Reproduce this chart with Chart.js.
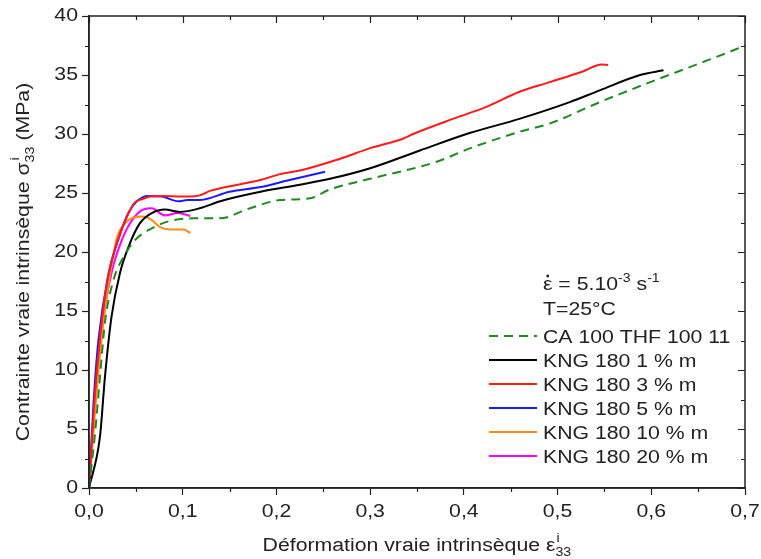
<!DOCTYPE html>
<html>
<head>
<meta charset="utf-8">
<script src="https://cdn.jsdelivr.net/npm/chart.js@4/dist/chart.umd.min.js"></script>
<style>
  body { margin: 0; background: #fff; }
  #wrap { width: 761px; height: 559px; }
</style>
</head>
<body>
<div id="wrap"><canvas id="chart"></canvas></div>
<script>
// strain (x) / stress in MPa (y)
const caX = [0, 0.0064, 0.0117, 0.017, 0.026, 0.037, 0.049, 0.067, 0.085, 0.113, 0.14, 0.168, 0.204, 0.236, 0.257, 0.30, 0.371, 0.407, 0.46, 0.492, 0.545, 0.599, 0.652, 0.691, 0.7];
const caY = [0, 4.6, 9.4, 14.0, 17.6, 19.6, 21.0, 22.0, 22.6, 22.85, 22.85, 23.6, 24.4, 24.55, 25.3, 26.2, 27.65, 28.8, 30.2, 30.9, 32.7, 34.4, 36.0, 37.2, 37.5];

const kng1X = [0, 0.0117, 0.017, 0.024, 0.033, 0.042, 0.054, 0.067, 0.081, 0.097, 0.118, 0.14, 0.183, 0.225, 0.257, 0.30, 0.353, 0.407, 0.46, 0.513, 0.545, 0.588, 0.613];
const kng1Y = [0, 4.35, 9.4, 14.5, 18.2, 20.4, 22.4, 23.3, 23.6, 23.4, 23.7, 24.3, 25.1, 25.7, 26.2, 27.1, 28.6, 30.1, 31.3, 32.7, 33.7, 35.0, 35.4];

const kng3X = [0, 0.005, 0.011, 0.02, 0.03, 0.04, 0.049, 0.058, 0.065, 0.08, 0.097, 0.108, 0.118, 0.13, 0.14, 0.183, 0.204, 0.225, 0.268, 0.30, 0.335, 0.346, 0.389, 0.424, 0.46, 0.492, 0.527, 0.547, 0.554];
const kng3Y = [0, 6.5, 12.2, 17.8, 20.8, 22.9, 24.2, 24.5, 24.7, 24.75, 24.7, 24.7, 24.8, 25.2, 25.4, 26.1, 26.6, 26.9, 27.9, 28.8, 29.6, 30.0, 31.3, 32.3, 33.6, 34.4, 35.3, 35.9, 35.85];

const kng5X = [0, 0.0046, 0.01, 0.021, 0.031, 0.042, 0.051, 0.063, 0.078, 0.095, 0.105, 0.117, 0.15, 0.183, 0.214, 0.252];
const kng5Y = [0, 6.9, 12.5, 18.2, 21.0, 23.3, 24.3, 24.75, 24.7, 24.3, 24.4, 24.4, 25.1, 25.5, 26.1, 26.8];

const kng10X = [0, 0.007, 0.014, 0.022, 0.03, 0.037, 0.047, 0.058, 0.067, 0.076, 0.086, 0.101, 0.108];
const kng10Y = [0, 7.0, 13.0, 17.8, 21.3, 22.3, 22.9, 23.0, 22.7, 22.1, 21.9, 21.9, 21.6];

const kng20X = [0, 0.0064, 0.0135, 0.024, 0.035, 0.046, 0.058, 0.067, 0.081, 0.095, 0.108];
const kng20Y = [0, 7.2, 13.4, 18.2, 21.0, 22.7, 23.6, 23.7, 23.1, 23.3, 23.05];

const labels = ["CA 100 THF 100 11", "KNG 180 1 % m", "KNG 180 3 % m", "KNG 180 5 % m", "KNG 180 10 % m", "KNG 180 20 % m"];
const xTicks = [0, 0.1, 0.2, 0.3, 0.4, 0.5, 0.6, 0.7];
const yTicks = [0, 5, 10, 15, 20, 25, 30, 35, 40];

const FONT = "Liberation Sans, Arial, sans-serif";
const INK = "#222";
const SX = 1.18; // the original text is a bit wider than Arial
const BIG = 18, SMALL = 12;

function pts(xs, ys) {
    return xs.map((x, i) => ({x: x, y: ys[i]}));
}

function series(label, xs, ys, color, dash) {
    return {
        label: label,
        data: pts(xs, ys),
        borderColor: color,
        borderWidth: 2,
        borderDash: dash || [],
        pointRadius: 0,
        showLine: true,
        fill: false,
        cubicInterpolationMode: "monotone"
    };
}

// draw stretched text, returns its width
function txt(ctx, s, x, y, size, align) {
    ctx.font = size + "px " + FONT;
    let w = ctx.measureText(s).width * SX;
    let x0 = x;
    if (align === "center") x0 = x - w / 2;
    if (align === "right") x0 = x - w;
    ctx.save();
    ctx.translate(x0, y);
    ctx.scale(SX, 1);
    ctx.textAlign = "left";
    ctx.fillText(s, 0, 0);
    ctx.restore();
    return w;
}

function tw(ctx, s, size) {
    ctx.font = size + "px " + FONT;
    return ctx.measureText(s).width * SX;
}

// frame, minor ticks, mirrored ticks, tick labels, titles, note and legend
let decor = {
    id: "decor",
    afterDraw: (chart) => {
        let ctx = chart.ctx;
        let a = chart.chartArea;
        let xs = chart.scales.x, ys = chart.scales.y;
        ctx.save();
        ctx.strokeStyle = INK;
        ctx.lineWidth = 1.5;
        ctx.strokeRect(a.left, a.top, a.right - a.left, a.bottom - a.top);

        ctx.lineWidth = 1.2;
        ctx.beginPath();
        for (let v = 0; v <= 0.7001; v += 0.05) {
            let major = Math.abs(v * 10 - Math.round(v * 10)) < 1e-6;
            let px = Math.round(xs.getPixelForValue(v)) + 0.5;
            let len = major ? 7 : 4;
            if (!major) {
                ctx.moveTo(px, a.bottom);
                ctx.lineTo(px, a.bottom + len);
            }
            ctx.moveTo(px, a.top);
            ctx.lineTo(px, a.top + len);
        }
        for (let v = 0; v <= 40; v += 2.5) {
            let major = v % 5 === 0;
            let py = Math.round(ys.getPixelForValue(v)) + 0.5;
            let len = major ? 7 : 4;
            if (!major) {
                ctx.moveTo(a.left, py);
                ctx.lineTo(a.left - len, py);
            }
            ctx.moveTo(a.right, py);
            ctx.lineTo(a.right - len, py);
        }
        ctx.stroke();

        ctx.fillStyle = INK;
        ctx.textBaseline = "middle";
        xTicks.forEach(v => {
            txt(ctx, v.toFixed(1).replace(".", ","), xs.getPixelForValue(v), 512, BIG, "center");
        });
        yTicks.forEach(v => {
            txt(ctx, String(v), 78, ys.getPixelForValue(v), BIG, "right");
        });

        ctx.textBaseline = "alphabetic";

        // x title
        let xt = "Déformation vraie intrinsèque ε";
        let xw = tw(ctx, xt, BIG);
        let x0 = (a.left + a.right) / 2 - xw / 2 - 8;
        let by = 551;
        txt(ctx, xt, x0, by, BIG);
        txt(ctx, "i", x0 + xw + 1, by - 9, SMALL);
        txt(ctx, "33", x0 + xw, by + 5, SMALL);

        // y title, rotated
        ctx.save();
        ctx.translate(29, 262);
        ctx.rotate(-Math.PI / 2);
        let p1 = "Contrainte vraie intrinsèque σ";
        let p2 = " (MPa)";
        let w1 = tw(ctx, p1, BIG);
        let w2 = tw(ctx, p2, BIG);
        let gap = 16;
        let sx = -(w1 + gap + w2) / 2;
        txt(ctx, p1, sx, 0, BIG);
        txt(ctx, p2, sx + w1 + gap, 0, BIG);
        txt(ctx, "i", sx + w1 + 2, -10, SMALL);
        txt(ctx, "33", sx + w1, 5, SMALL);
        ctx.restore();

        // note
        let lx = 543;
        let epsW = txt(ctx, "ε", lx, 290, BIG);
        ctx.beginPath();
        ctx.arc(lx + epsW / 2, 276, 1.4, 0, Math.PI * 2);
        ctx.fill();
        let cx = lx + epsW;
        cx += txt(ctx, " = 5.10", cx, 290, BIG);
        cx += txt(ctx, "-3", cx, 282, SMALL);
        cx += tw(ctx, " ", BIG);
        cx += txt(ctx, "s", cx, 290, BIG);
        txt(ctx, "-1", cx, 282, SMALL);
        txt(ctx, "T=25°C", lx, 315, BIG);

        // legend
        chart.data.datasets.forEach((ds, i) => {
            let y = 336 + i * 24;
            ctx.strokeStyle = ds.borderColor;
            ctx.lineWidth = 2;
            ctx.setLineDash(ds.borderDash);
            ctx.beginPath();
            ctx.moveTo(489, y);
            ctx.lineTo(537, y);
            ctx.stroke();
            ctx.setLineDash([]);
            ctx.fillStyle = INK;
            txt(ctx, ds.label, lx, y + 6.5, BIG);
        });
        ctx.restore();
    }
};

new Chart(document.getElementById("chart").getContext("2d"), {
    type: "scatter",
    data: {
        datasets: [
            series(labels[0], caX, caY, "#1f8a1f", [9, 6]),
            series(labels[1], kng1X, kng1Y, "#000000"),
            series(labels[2], kng3X, kng3Y, "#ff1a1a"),
            series(labels[3], kng5X, kng5Y, "#1a1aff"),
            series(labels[4], kng10X, kng10Y, "#ff8c1a"),
            series(labels[5], kng20X, kng20Y, "#ff00ff")
        ]
    },
    options: {
        responsive: true,
        maintainAspectRatio: false,
        animation: false,
        layout: {padding: {top: 16, right: 16, left: 0, bottom: 0}},
        plugins: {legend: {display: false}, tooltip: {enabled: false}},
        scales: {
            x: {
                type: "linear",
                min: 0,
                max: 0.7,
                afterBuildTicks: (s) => { s.ticks = xTicks.map(v => ({value: v})); },
                afterFit: (s) => { s.height = 71; },
                grid: {drawOnChartArea: false, tickLength: 7, color: INK, tickWidth: 1.2},
                border: {color: INK, width: 1.5},
                ticks: {display: false}
            },
            y: {
                min: 0,
                max: 40,
                afterBuildTicks: (s) => { s.ticks = yTicks.map(v => ({value: v})); },
                afterFit: (s) => { s.width = 89; },
                grid: {drawOnChartArea: false, tickLength: 7, color: INK, tickWidth: 1.2},
                border: {color: INK, width: 1.5},
                ticks: {display: false}
            }
        }
    },
    plugins: [decor]
});
</script>
</body>
</html>
